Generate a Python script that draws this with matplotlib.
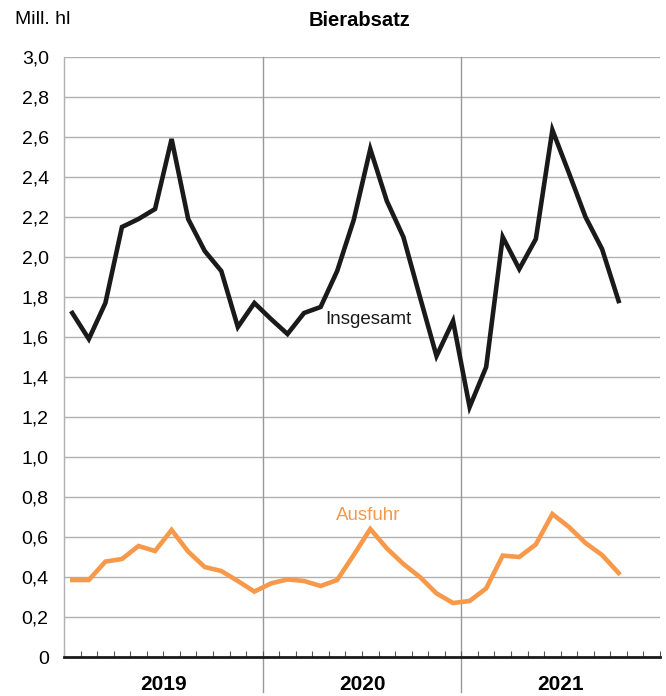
import matplotlib.pyplot as plt
import numpy as np

plt.rcParams['font.family'] = ['Liberation Sans', 'DejaVu Sans']

# Monatswerte Jan 2019 - Okt 2021, Mill. hl
insgesamt = [1.72, 1.59, 1.77, 2.15, 2.19, 2.24, 2.59, 2.19, 2.03, 1.93, 1.65, 1.77,
             1.69, 1.615, 1.72, 1.75, 1.93, 2.185, 2.54, 2.28, 2.10, 1.80, 1.505, 1.68,
             1.25, 1.45, 2.10, 1.94, 2.09, 2.635, 2.42, 2.20, 2.04, 1.78]
ausfuhr = [0.385, 0.385, 0.477, 0.49, 0.555, 0.53, 0.635, 0.527, 0.45, 0.43, 0.38, 0.327,
           0.368, 0.388, 0.38, 0.355, 0.385, 0.51, 0.64, 0.543, 0.465, 0.40, 0.318, 0.27,
           0.28, 0.343, 0.507, 0.50, 0.563, 0.715, 0.65, 0.57, 0.51, 0.42]
years = ['2019', '2020', '2021']
yticks = np.arange(0, 3.01, 0.2)
ylabels = ['0'] + [f'{v:.1f}'.replace('.', ',') for v in yticks[1:]]

fig = plt.figure(figsize=(6.66, 6.96), dpi=100)
ax = fig.add_axes([64/666, 39/696, 596/666, 600/696])

x = np.arange(len(insgesamt)) + 0.5
grid_c = '#b0b0b0'
for v in yticks[1:]:
    ax.axhline(v, color=grid_c, lw=1.0, zorder=1)
for xv in [12, 24]:
    ax.axvline(xv, ymin=-0.058, ymax=1, color='#999999', lw=1.0, clip_on=False, zorder=1)

ax.plot(x, insgesamt, color='#1a1a1a', lw=3.3, solid_joinstyle='miter', zorder=3)
ax.plot(x, ausfuhr, color='#f7994a', lw=3.3, solid_joinstyle='miter', zorder=3)

ax.text(18.4, 1.69, 'Insgesamt', fontsize=13.5, color='#1a1a1a', ha='center', va='center')
ax.text(18.4, 0.71, 'Ausfuhr', fontsize=13.5, color='#f7994a', ha='center', va='center')

ax.set_xlim(0, 36)
ax.set_ylim(0, 3.0)
ax.set_yticks(yticks)
ax.set_yticklabels(ylabels, fontsize=14)
ax.tick_params(axis='y', length=0, pad=11)
ax.set_xticks(np.arange(0, 37))
ax.set_xticklabels([])
ax.tick_params(axis='x', direction='in', length=4, width=0.8, color='#555555')

for s in ['top', 'right']:
    ax.spines[s].set_visible(False)
ax.spines['left'].set_color(grid_c)
ax.spines['left'].set_linewidth(1.0)
ax.spines['bottom'].set_color('#1a1a1a')
ax.spines['bottom'].set_linewidth(2.0)
ax.spines['bottom'].set_zorder(4)

for i, yr in enumerate(years):
    ax.text(6 + 12*i, -0.135, yr, fontsize=15, fontweight='bold', ha='center', va='center')

fig.text(15/666, 1 - 20/696, 'Mill. hl', fontsize=14, ha='left', va='center')
fig.text(360/666, 1 - 20/696, 'Bierabsatz', fontsize=14.5, fontweight='bold', ha='center', va='center')

fig.savefig('out.png', dpi=100)
